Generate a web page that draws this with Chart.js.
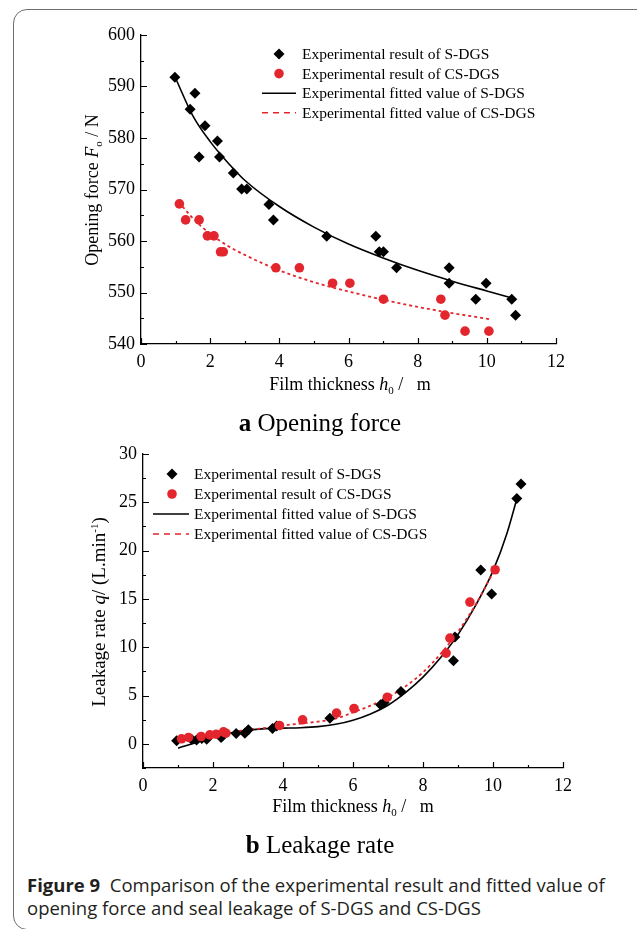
<!DOCTYPE html>
<html>
<head>
<meta charset="utf-8">
<script src="https://cdn.jsdelivr.net/npm/chart.js@4.4.1/dist/chart.umd.min.js"></script>
<style>
  body { margin: 0; background: #fff; width: 637px; height: 929px; overflow: hidden; position: relative;
         font-family: 'Liberation Serif', 'Times New Roman', serif; }
  .frame { position: absolute; left: 13px; top: 9px; width: 700px; height: 919px;
           border: 1.5px solid #6d6d6d; border-radius: 14px; }
  canvas { position: absolute; left: 0; }
  .t { position: absolute; white-space: nowrap; transform: translate(-50%, -50%); font-size: 18px; color: #000; }
  .rot { transform: translate(-50%, -50%) rotate(-90deg); }
  .t sub { font-size: 11px; vertical-align: -4px; line-height: 0; }
  .t sup { font-size: 11px; vertical-align: 7px; line-height: 0; }
  .sub-title { font-size: 25px; }
  .caption { position: absolute; left: 27px; top: 873px; font-family: 'Open Sans', 'Noto Sans', sans-serif;
             font-size: 18.5px; line-height: 23px; color: #231f20; white-space: nowrap; }
</style>
</head>
<body>
<div class="frame"></div>
<canvas id="force" width="620" height="390" style="top:0"></canvas>
<canvas id="leak" width="620" height="400" style="top:420px"></canvas>

<div class="t rot" style="left:92px; top:190px">Opening force <i>F</i><sub>o</sub> / N</div>
<div class="t" style="left:350px; top:384px">Film thickness <i>h</i><sub>0</sub> / &nbsp;&nbsp;m</div>
<div class="t sub-title" style="left:320px; top:423px"><b>a</b> Opening force</div>

<div class="t rot" style="left:99px; top:612px; font-size:19px">Leakage rate <i>q</i>/ (L.min<sup>-1</sup>)</div>
<div class="t" style="left:353px; top:806px">Film thickness <i>h</i><sub>0</sub> / &nbsp;&nbsp;m</div>
<div class="t sub-title" style="left:320px; top:845px"><b>b</b> Leakage rate</div>

<div class="caption"><b>Figure 9</b>&nbsp; Comparison of the experimental result and fitted value of<br>opening force and seal leakage of S-DGS and CS-DGS</div>

<script>
// legend texts
const legendLabels = [
    "Experimental result of S-DGS",
    "Experimental result of CS-DGS",
    "Experimental fitted value of S-DGS",
    "Experimental fitted value of CS-DGS"
];

// tick labels
const thickTicks = [0, 2, 4, 6, 8, 10, 12];
const forceTicks = [540, 550, 560, 570, 580, 590, 600];
const leakTicks = [0, 5, 10, 15, 20, 25, 30];

// (a) opening force, S-DGS measurements
const sThick = [0.98, 1.42, 1.56, 1.68, 1.85, 2.21, 2.27, 2.67, 2.91, 3.06, 3.70, 3.83, 5.37, 6.79, 6.89, 7.01, 7.39, 8.91, 8.91, 9.68, 9.98, 10.72, 10.83];
const sForce = [591.8, 585.6, 588.7, 576.3, 582.4, 579.4, 576.3, 573.2, 570.1, 570.1, 567.1, 564.1, 560.9, 560.9, 557.9, 557.9, 554.8, 554.8, 551.8, 548.7, 551.8, 548.7, 545.6];
// (a) opening force, CS-DGS measurements
const csThick = [1.11, 1.29, 1.68, 1.92, 2.11, 2.30, 2.38, 3.90, 4.58, 5.54, 6.04, 7.01, 8.67, 8.79, 9.37, 10.06];
const csForce = [567.2, 564.1, 564.1, 561.0, 561.0, 557.9, 557.9, 554.8, 554.8, 551.8, 551.8, 548.7, 548.7, 545.6, 542.5, 542.5];
// (a) fitted curves
const sFitThick = [1.0, 1.5, 2, 2.5, 3, 4, 5, 6, 7, 8, 9, 10, 10.7];
const sFitForce = [591.6, 584.3, 579.3, 575.3, 571.8, 566.7, 562.7, 559.4, 556.7, 554.3, 552.2, 550.3, 549.0];
const csFitThick = [1.2, 1.5, 2, 2.5, 3, 4, 5, 6, 7, 8, 9, 10.1];
const csFitForce = [566.7, 564.4, 561.4, 559.1, 557.3, 554.3, 552.0, 550.2, 548.6, 547.2, 546.0, 544.8];

// (b) leakage rate, S-DGS measurements
const sLeakThick = [0.96, 1.39, 1.53, 1.68, 1.82, 2.23, 2.27, 2.66, 2.91, 3.01, 3.70, 3.82, 5.34, 6.79, 6.89, 7.37, 8.87, 8.91, 9.65, 9.96, 10.68, 10.80];
const sLeak = [0.31, 0.48, 0.41, 0.55, 0.48, 0.66, 0.80, 1.07, 1.10, 1.45, 1.59, 1.86, 2.66, 4.04, 4.28, 5.42, 8.6, 11.05, 18.0, 15.5, 25.4, 26.9];
// (b) leakage rate, CS-DGS measurements
const csLeakThick = [1.10, 1.30, 1.66, 1.91, 2.09, 2.30, 2.37, 3.90, 4.56, 5.53, 6.03, 6.98, 8.66, 8.77, 9.34, 10.06];
const csLeak = [0.52, 0.66, 0.76, 0.93, 1.00, 1.24, 1.10, 1.90, 2.49, 3.18, 3.66, 4.83, 9.39, 10.94, 14.67, 18.02];
// (b) fitted curves
const sLeakFitThick = [1.0, 1.5, 2.0, 2.5, 3.0, 3.5, 4.0, 4.5, 5.0, 5.5, 6.0, 6.5, 7.0, 7.5, 8.0, 8.5, 9.0, 9.5, 10.0, 10.4, 10.7];
const sLeakFit = [-0.45, 0.12, 0.65, 1.12, 1.42, 1.58, 1.63, 1.67, 1.78, 2.02, 2.45, 3.1, 4.0, 5.3, 6.9, 8.9, 11.3, 14.3, 17.9, 21.8, 25.6];
const csLeakFitThick = [1.05, 1.5, 2.0, 2.5, 3.0, 3.5, 4.0, 4.5, 5.0, 5.5, 6.0, 6.5, 7.0, 7.5, 8.0, 8.5, 9.0, 9.5, 10.0];
const csLeakFit = [0.45, 0.65, 0.9, 1.2, 1.45, 1.65, 1.9, 2.1, 2.3, 2.6, 3.25, 3.95, 4.8, 5.95, 7.4, 9.3, 11.6, 14.4, 17.7];

const RED = "#e3262d";
const FONT = "'Liberation Serif', 'Times New Roman', serif";

const pairs = (xs, ys) => xs.map((x, i) => ({x: x, y: ys[i]}));

// inward major/minor ticks along the two axes
const innerTicks = {
    id: "innerTicks",
    afterDraw(chart, args, opts) {
        const {ctx, chartArea: a, scales: {x, y}} = chart;
        const near = (v, step) => Math.abs(v / step - Math.round(v / step)) < 1e-6;
        ctx.save();
        ctx.strokeStyle = "#000";
        ctx.lineWidth = 1.2;
        ctx.beginPath();
        for (let v = x.min; v <= x.max + 1e-9; v += opts.xMinor) {
            const px = Math.round(x.getPixelForValue(v)) + 0.5;
            const len = near(v, opts.xMajor) ? 6 : 3;
            ctx.moveTo(px, a.bottom);
            ctx.lineTo(px, a.bottom - len);
        }
        let start = Math.ceil(y.min / opts.yMinor) * opts.yMinor;
        for (let v = start; v <= y.max + 1e-9; v += opts.yMinor) {
            const py = Math.round(y.getPixelForValue(v)) + 0.5;
            const len = near(v, opts.yMajor) ? 6 : 3;
            ctx.moveTo(a.left, py);
            ctx.lineTo(a.left + len, py);
        }
        ctx.stroke();
        ctx.restore();
    }
};

// legend drawn inside the plot
const innerLegend = {
    id: "innerLegend",
    afterDraw(chart, args, opts) {
        const ctx = chart.ctx;
        ctx.save();
        ctx.font = "15.5px " + FONT;
        ctx.textBaseline = "middle";
        legendLabels.forEach((label, i) => {
            const y = opts.y + i * opts.dy;
            if (i === 0) {
                ctx.fillStyle = "#000";
                ctx.beginPath();
                ctx.moveTo(opts.mark, y - 5.5);
                ctx.lineTo(opts.mark + 5.5, y);
                ctx.lineTo(opts.mark, y + 5.5);
                ctx.lineTo(opts.mark - 5.5, y);
                ctx.closePath();
                ctx.fill();
            } else if (i === 1) {
                ctx.fillStyle = RED;
                ctx.beginPath();
                ctx.arc(opts.mark, y, 4.8, 0, Math.PI * 2);
                ctx.fill();
            } else {
                ctx.strokeStyle = i === 2 ? "#000" : RED;
                ctx.lineWidth = 1.6;
                ctx.setLineDash(i === 2 ? [] : [6, 5]);
                ctx.beginPath();
                ctx.moveTo(opts.lineFrom, y);
                ctx.lineTo(opts.lineTo, y);
                ctx.stroke();
                ctx.setLineDash([]);
            }
            ctx.fillStyle = "#000";
            ctx.fillText(label, opts.text, y + 1);
        });
        ctx.restore();
    }
};

function buildChart(id, cfg) {
    const axisFont = {family: FONT, size: 18};
    return new Chart(document.getElementById(id), {
        type: "scatter",
        data: {
            datasets: [
                {data: cfg.sPts, pointStyle: "rectRot", pointRadius: 5.5, backgroundColor: "#000", borderWidth: 0, order: 1},
                {data: cfg.csPts, pointStyle: "circle", pointRadius: 4.8, backgroundColor: RED, borderWidth: 0, order: 0},
                {data: cfg.sFit, showLine: true, pointRadius: 0, borderColor: "#000", borderWidth: 1.6,
                    cubicInterpolationMode: "monotone", order: 3},
                {data: cfg.csFit, showLine: true, pointRadius: 0, borderColor: RED, borderWidth: 1.8,
                    borderDash: [3, 3], cubicInterpolationMode: "monotone", order: 2}
            ]
        },
        options: {
            responsive: false,
            animation: false,
            devicePixelRatio: 1,
            layout: {padding: cfg.padding},
            plugins: {
                legend: {display: false},
                tooltip: {enabled: false},
                innerTicks: cfg.ticks,
                innerLegend: cfg.legend
            },
            scales: {
                x: {
                    type: "linear", min: 0, max: 12,
                    grid: {display: false, drawTicks: false},
                    border: {display: true, color: "#000", width: 1.3},
                    ticks: {color: "#000", font: axisFont, padding: 7},
                    afterBuildTicks: s => { s.ticks = thickTicks.map(v => ({value: v})); },
                    afterFit: s => { s.height = cfg.xHeight; }
                },
                y: {
                    type: "linear", min: cfg.yMin, max: cfg.yMax,
                    grid: {display: false, drawTicks: false},
                    border: {display: true, color: "#000", width: 1.3},
                    ticks: {color: "#000", font: axisFont, padding: 6},
                    afterBuildTicks: s => { s.ticks = cfg.yTicks.map(v => ({value: v})); },
                    afterFit: s => { s.width = cfg.yWidth; }
                }
            }
        },
        plugins: [innerTicks, innerLegend]
    });
}

buildChart("force", {
    sPts: pairs(sThick, sForce),
    csPts: pairs(csThick, csForce),
    sFit: pairs(sFitThick, sFitForce),
    csFit: pairs(csFitThick, csFitForce),
    yMin: 540, yMax: 600, yTicks: forceTicks,
    padding: {left: 0, top: 35, right: 64, bottom: 0},
    yWidth: 141, xHeight: 46,
    ticks: {xMajor: 2, xMinor: 1, yMajor: 10, yMinor: 5},
    legend: {mark: 279, lineFrom: 262, lineTo: 296, text: 302, y: 54, dy: 19.6}
});

buildChart("leak", {
    sPts: pairs(sLeakThick, sLeak),
    csPts: pairs(csLeakThick, csLeak),
    sFit: pairs(sLeakFitThick, sLeakFit),
    csFit: pairs(csLeakFitThick, csLeakFit),
    yMin: -2.5, yMax: 30, yTicks: leakTicks,
    padding: {left: 0, top: 34, right: 57, bottom: 0},
    yWidth: 143, xHeight: 52,
    ticks: {xMajor: 2, xMinor: 1, yMajor: 5, yMinor: 2.5},
    legend: {mark: 172, lineFrom: 153, lineTo: 189, text: 194, y: 54, dy: 20}
});
</script>
</body>
</html>
